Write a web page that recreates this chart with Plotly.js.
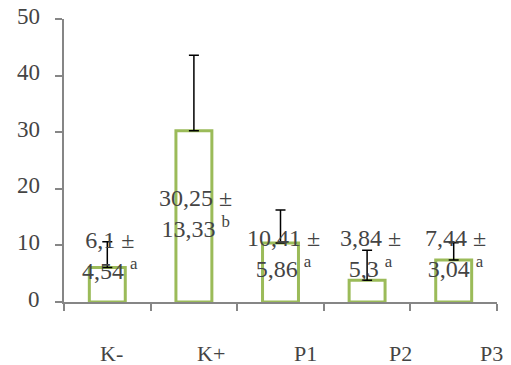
<!DOCTYPE html>
<html>
<head>
<meta charset="utf-8">
<script src="https://cdn.plot.ly/plotly-3.0.1.min.js"></script>
<style>html,body{margin:0;padding:0;background:#fff;}#chart{width:511px;height:365px;}</style>
</head>
<body>
<div id="chart"></div>
<script>
// Data
var categories = ["K-", "K+", "P1", "P2", "P3"];
var means = [6.1, 30.25, 10.41, 3.84, 7.44];
var sds = [4.54, 13.33, 5.86, 5.3, 3.04];
var meanText = ["6,1", "30,25", "10,41", "3,84", "7,44"];
var sdText = ["4,54", "13,33", "5,86", "5,3", "3,04"];
var letters = ["a", "b", "a", "a", "a"];
var yTicks = [0, 10, 20, 30, 40, 50];

// Label placement (layout, not data)
var labelY = [8.3, 15.7, 8.6, 8.6, 8.6];
var labelDx = [0.03, 0.02, 0.03, 0.04, 0.02];
var xLabelDx = [0.054, 0.20, 0.29, 0.39, 0.44];

var FONT = "Liberation Serif";

var trace = {
  type: "bar",
  x: categories,
  y: means,
  width: 0.415,
  marker: {color: "#ffffff", line: {color: "#9BBB59", width: 3}},
  error_y: {type: "data", array: sds, symmetric: false, arrayminus: [0, 0, 0, 0, 0], color: "#000000", thickness: 1.5, width: 5},
  hoverinfo: "none"
};

var annotations = [];
categories.forEach(function(c, i) {
  annotations.push({
    x: i + labelDx[i], y: labelY[i], xref: "x", yref: "y",
    text: meanText[i] + " ±<br>" + sdText[i] + " <sup>" + letters[i] + "</sup>",
    showarrow: false, align: "center", xanchor: "center", yanchor: "middle",
    font: {family: FONT, size: 24}
  });
  annotations.push({
    x: i + xLabelDx[i], y: -0.183, xref: "x", yref: "paper",
    text: c, showarrow: false, xanchor: "center", yanchor: "middle",
    font: {family: FONT, size: 22}
  });
});
yTicks.forEach(function(t) {
  annotations.push({
    x: -0.05, y: t, xref: "paper", yref: "y",
    text: String(t), showarrow: false, xanchor: "right", yanchor: "middle", yshift: 3,
    font: {family: FONT, size: 23}
  });
});

var layout = {
  width: 511, height: 365,
  margin: {l: 64, r: 14, t: 19, b: 63},
  paper_bgcolor: "#ffffff", plot_bgcolor: "#ffffff",
  showlegend: false,
  font: {family: FONT, size: 22},
  xaxis: {
    type: "category", range: [-0.5, 4.5],
    showline: true, linecolor: "#868686", linewidth: 1.5,
    ticks: "outside", tickson: "boundaries", ticklen: 7, tickcolor: "#868686", tickwidth: 1.5,
    showticklabels: false, showgrid: false, zeroline: false
  },
  yaxis: {
    range: [0, 50], tickvals: yTicks,
    showline: true, linecolor: "#868686", linewidth: 1.5,
    ticks: "outside", ticklen: 7, tickcolor: "#868686", tickwidth: 1.5,
    showticklabels: false,
    showgrid: false, zeroline: false
  },
  annotations: annotations
};

Plotly.newPlot("chart", [trace], layout, {displayModeBar: false});
</script>
</body>
</html>
